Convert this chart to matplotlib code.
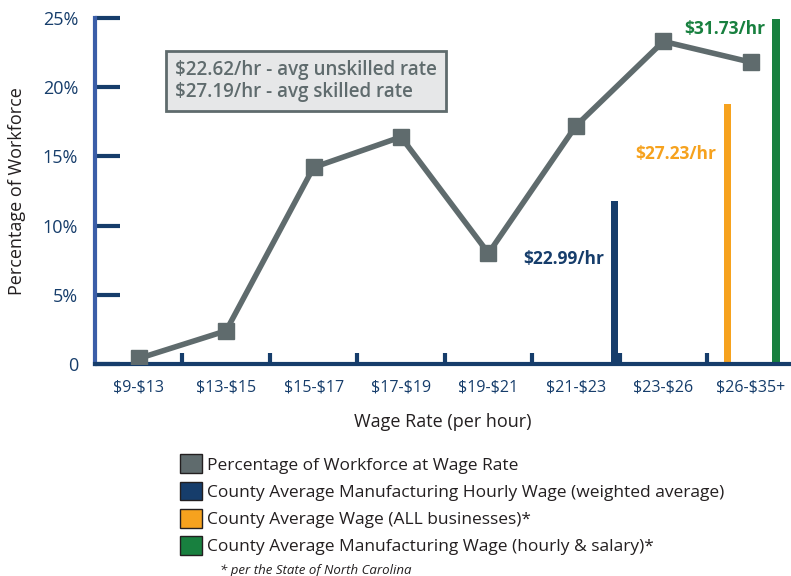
import matplotlib.pyplot as plt
from matplotlib.patches import Patch

plt.rcParams['font.family'] = ['Open Sans', 'DejaVu Sans']
plt.rcParams['text.parse_math'] = False

# wage bands and share of workforce (%)
wage_bands = ["$9-$13", "$13-$15", "$15-$17", "$17-$19", "$19-$21",
              "$21-$23", "$23-$26", "$26-$35+"]
workforce_pct = [0.4, 2.4, 14.2, 16.4, 8.0, 17.2, 23.3, 21.8]

# county average wage bars (position on the category axis, height in %)
avg_labels = ["$22.99/hr", "$27.23/hr", "$31.73/hr"]
avg_pos = [5.44, 6.73, 7.29]
avg_height = [11.8, 18.8, 24.9]

legend_labels = [
    "Percentage of Workforce at Wage Rate",
    "County Average Manufacturing Hourly Wage (weighted average)",
    "County Average Wage (ALL businesses)*",
    "County Average Manufacturing Wage (hourly & salary)*",
]

GRAY = "#5f6b6d"
NAVY = "#163d6b"
ORANGE = "#f6a21e"
GREEN = "#18803f"
bar_colors = [NAVY, ORANGE, GREEN]

fig = plt.figure(figsize=(7.91, 5.76), dpi=100)
ax = fig.add_axes([0.120, 0.368, 0.879, 0.601])

x = list(range(len(wage_bands)))
ax.plot(x, workforce_pct, color=GRAY, lw=4, marker="s", markersize=12,
        zorder=3)

ax.bar(avg_pos, avg_height, width=0.085, color=bar_colors, zorder=2)

# value labels next to the bars
ax.text(avg_pos[0] - 0.12, 7.6, avg_labels[0], color=NAVY, fontsize=12.5,
        fontweight="bold", ha="right", va="center")
ax.text(avg_pos[1] - 0.13, 15.2, avg_labels[1], color=ORANGE, fontsize=12.5,
        fontweight="bold", ha="right", va="center")
ax.text(avg_pos[2] - 0.12, 24.2, avg_labels[2], color=GREEN, fontsize=12.5,
        fontweight="bold", ha="right", va="center")

ax.text(0.115, 0.818, "$22.62/hr - avg unskilled rate\n$27.19/hr - avg skilled rate",
        transform=ax.transAxes, color=GRAY, fontsize=13.5, fontweight="semibold",
        va="center", ha="left", linespacing=1.15,
        bbox=dict(boxstyle="square,pad=0.48", facecolor="#e6e7e8",
                  edgecolor=GRAY, lw=2))

ax.set_xlim(-0.5, 7.45)
ax.set_ylim(0, 25)
ax.set_yticks([0, 5, 10, 15, 20, 25])
ax.set_yticklabels(["0", "5%", "10%", "15%", "20%", "25%"], color=NAVY,
                   fontsize=13)
ax.set_xticks([i + 0.5 for i in range(len(wage_bands) - 1)])
ax.set_xticklabels([])
ax.set_xticks(x, minor=True)
ax.set_xticklabels(wage_bands, minor=True, color=NAVY, fontsize=11.5)
ax.tick_params(axis="x", which="minor", length=0, pad=11)
ax.tick_params(axis="x", which="major", direction="in", length=8, width=3,
               color=NAVY)
ax.tick_params(axis="y", direction="in", length=18, width=3, color=NAVY,
               pad=12)

for side in ["top", "right"]:
    ax.spines[side].set_visible(False)
ax.spines["left"].set_color("#3b5ea8")
ax.spines["left"].set_linewidth(3)
ax.spines["bottom"].set_color(NAVY)
ax.spines["bottom"].set_linewidth(3)

ax.set_ylabel("Percentage of Workforce", fontsize=13, color="#231f20",
              labelpad=12)
ax.set_xlabel("Wage Rate (per hour)", fontsize=13, color="#231f20", labelpad=13)

handles = [Patch(facecolor=c, edgecolor="#231f20", lw=1)
           for c in [GRAY, NAVY, ORANGE, GREEN]]
fig.legend(handles, legend_labels, loc="upper left",
           bbox_to_anchor=(0.227, 0.211), frameon=False, fontsize=12.5,
           handlelength=1.3, handleheight=1.3, handletextpad=0.3,
           labelspacing=0.45, borderpad=0, borderaxespad=0,
           labelcolor="#231f20")
fig.text(0.278, 0.004, "* per the State of North Carolina", fontsize=9.5,
         style="italic", color="#231f20")

fig.savefig("out.png", dpi=100)
